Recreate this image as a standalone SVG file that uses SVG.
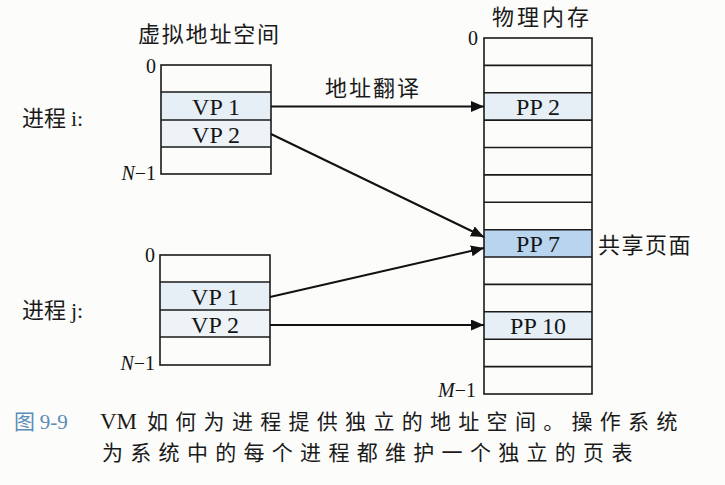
<svg xmlns="http://www.w3.org/2000/svg" width="725" height="485" viewBox="0 0 725 485">
<style>
.box{fill:none;stroke:#1a1a1a;stroke-width:1.6}
.ln{stroke:#1a1a1a;stroke-width:1.6}
.lt{fill:#e6eef6}
.lt2{fill:#eef3f8}
.dk{fill:#b8d4ee}
.serif{font-family:"Liberation Serif","Times New Roman",Times,"DejaVu Serif",serif}
.cell{font-family:"Liberation Serif","Times New Roman",Times,"DejaVu Serif",serif;font-size:24px;fill:#151515;text-anchor:middle}
.num{font-family:"Liberation Serif","Times New Roman",Times,"DejaVu Serif",serif;font-size:20px;fill:#151515;text-anchor:end}
.it{font-style:italic}
.cjk{font-family:"Noto Sans CJK SC","Noto Sans",sans-serif;font-size:22px;fill:#1a1a1a}
.arr{stroke:#111;stroke-width:2;fill:none;marker-end:url(#ah)}
.cap{font-family:"Noto Sans CJK SC","Noto Sans",sans-serif;font-size:21px;fill:#1a1a1a}
</style>
<defs>
<marker id="ah" markerUnits="userSpaceOnUse" markerWidth="14" markerHeight="12" refX="13" refY="5.5" orient="auto">
<path d="M0,0 L13,5.5 L0,11 Z" fill="#111"/>
</marker>
</defs>
<rect x="0" y="0" width="725" height="485" fill="#fcfcfa"/>

<g id="label-vas"><text class="cjk" x="138" y="42" letter-spacing="1.8">虚拟地址空间</text></g>
<g id="label-pm"><text class="cjk" x="492" y="25" font-size="21" letter-spacing="3">物理内存</text></g>

<g id="proc-i">
<text class="cjk" x="22" y="126" font-size="23">进程 <tspan class="serif">i:</tspan></text>
<rect class="lt" x="161" y="92" width="110" height="28"/>
<rect class="lt2" x="161" y="120" width="110" height="27"/>
<rect class="box" x="161" y="65" width="110" height="109"/>
<line class="ln" x1="161" y1="92" x2="271" y2="92"/>
<line class="ln" x1="161" y1="120" x2="271" y2="120"/>
<line class="ln" x1="161" y1="147" x2="271" y2="147"/>
<text class="cell" x="216" y="115">VP 1</text>
<text class="cell" x="216" y="143">VP 2</text>
<text class="num" x="156" y="73">0</text>
<text class="num" x="156" y="180" font-size="22"><tspan class="it">N</tspan>−1</text>
</g>

<g id="proc-j">
<text class="cjk" x="22" y="318" font-size="23">进程 <tspan class="serif">j:</tspan></text>
<rect class="lt" x="160" y="282" width="110" height="28"/>
<rect class="lt2" x="160" y="310" width="110" height="27"/>
<rect class="box" x="160" y="255" width="110" height="110"/>
<line class="ln" x1="160" y1="282" x2="270" y2="282"/>
<line class="ln" x1="160" y1="310" x2="270" y2="310"/>
<line class="ln" x1="160" y1="337" x2="270" y2="337"/>
<text class="cell" x="215" y="305">VP 1</text>
<text class="cell" x="215" y="333">VP 2</text>
<text class="num" x="155" y="262">0</text>
<text class="num" x="155" y="370" font-size="22"><tspan class="it">N</tspan>−1</text>
</g>

<g id="phys-mem">
<rect class="lt" x="484" y="92.8" width="108" height="27.3"/>
<rect class="dk" x="484" y="229.7" width="108" height="27.3"/>
<rect class="lt" x="484" y="311.8" width="108" height="27.4"/>
<rect class="box" x="484" y="38" width="108" height="356"/>
<line class="ln" x1="484" y1="65.4" x2="592" y2="65.4"/>
<line class="ln" x1="484" y1="92.8" x2="592" y2="92.8"/>
<line class="ln" x1="484" y1="120.1" x2="592" y2="120.1"/>
<line class="ln" x1="484" y1="147.5" x2="592" y2="147.5"/>
<line class="ln" x1="484" y1="174.9" x2="592" y2="174.9"/>
<line class="ln" x1="484" y1="202.3" x2="592" y2="202.3"/>
<line class="ln" x1="484" y1="229.7" x2="592" y2="229.7"/>
<line class="ln" x1="484" y1="257" x2="592" y2="257"/>
<line class="ln" x1="484" y1="284.4" x2="592" y2="284.4"/>
<line class="ln" x1="484" y1="311.8" x2="592" y2="311.8"/>
<line class="ln" x1="484" y1="339.2" x2="592" y2="339.2"/>
<line class="ln" x1="484" y1="366.6" x2="592" y2="366.6"/>
<text class="cell" x="538" y="115">PP 2</text>
<text class="cell" x="538" y="252">PP 7</text>
<text class="cell" x="538" y="334">PP 10</text>
<text class="num" x="478" y="45">0</text>
<text class="num" x="476" y="397" font-size="22"><tspan class="it">M</tspan>−1</text>
<text class="cjk" x="598" y="253" font-size="21" letter-spacing="1.5">共享页面</text>
</g>

<g id="connectors">
<line class="arr" x1="271" y1="106.5" x2="484" y2="106.5"/>
<line class="arr" x1="271" y1="134" x2="484" y2="237"/>
<line class="arr" x1="270" y1="297" x2="484" y2="248"/>
<line class="arr" x1="270" y1="325" x2="484" y2="325"/>
<text class="cjk" x="325" y="96" letter-spacing="2">地址翻译</text>
</g>

<g id="caption">
<text class="cap" x="14" y="429" style="fill:#5b8db8">图 <tspan class="serif">9-9</tspan></text>
<text class="serif" x="100" y="429" font-size="23" fill="#1a1a1a">VM</text>
<text class="cap" x="147" y="429" letter-spacing="7.3">如何为进程提供独立的地址空间。操作系统</text>
<text class="cap" x="102" y="460" letter-spacing="7.3">为系统中的每个进程都维护一个独立的页表</text>
</g>
</svg>
